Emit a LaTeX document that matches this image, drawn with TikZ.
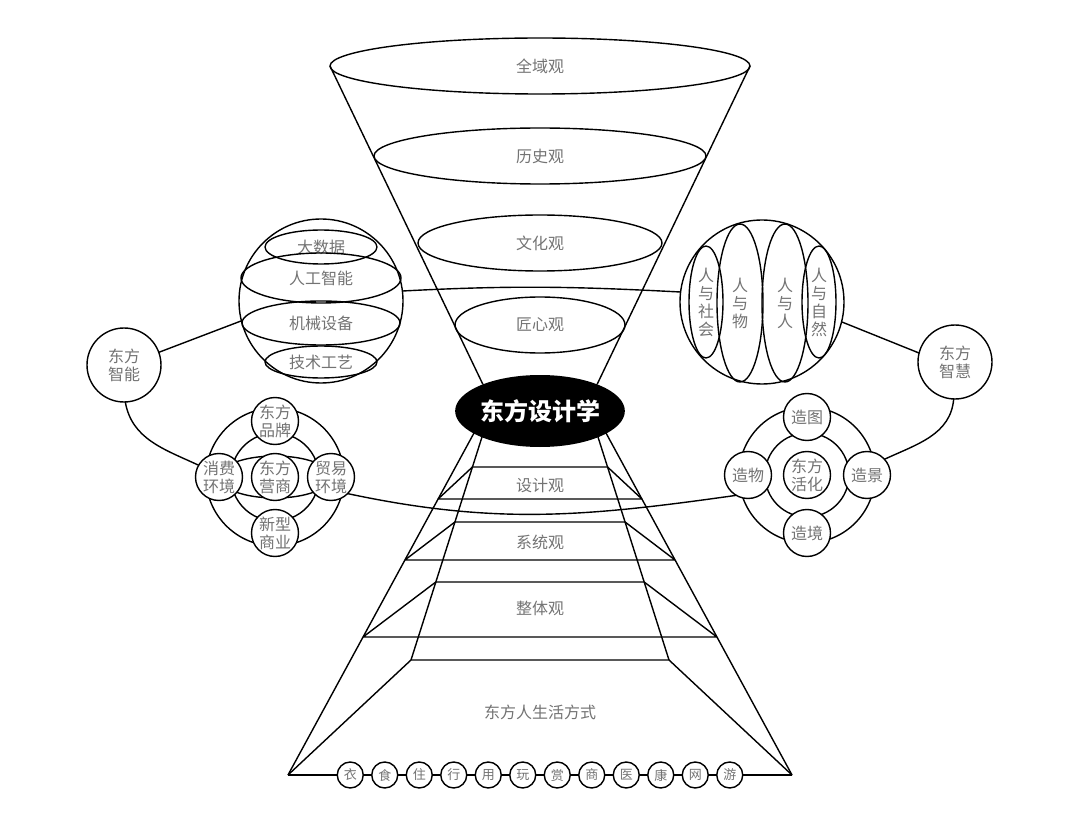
\documentclass[tikz,border=0pt]{standalone}
\usepackage{fontspec}
\newfontfamily\cjk{Noto Sans CJK SC}
\usetikzlibrary{calc,shapes.geometric}
\tikzset{
	lbl/.style={font=\cjk\fontsize{16}{18}\selectfont,text=black!55,align=center},
	oval/.style={draw,ellipse,inner sep=0pt,outer sep=0pt,lbl},
	disc/.style={draw,circle,fill=white,inner sep=0pt,outer sep=0pt,lbl},
	ringline/.style={draw,circle,inner sep=0pt,outer sep=0pt},
	bead/.style={disc,minimum size=26,font=\cjk\fontsize{13}{15}\selectfont},
}

\begin{document}
\begin{tikzpicture}[x=1pt,y=-1pt,line width=1.4pt]
	\useasboundingbox (0,0) rectangle (1080,829);
	\node[ellipse,fill=black,minimum width=168,minimum height=72,inner sep=0pt,outer sep=0pt,font=\cjk\fontsize{24}{26}\selectfont\bfseries,text=white] (design) at (540,411) {东方设计学};
	\node[oval,minimum width=420,minimum height=56] (quanyu) at (540,66) {全域观};
	\node[oval,minimum width=332,minimum height=56] (lishi) at (540,156) {历史观};
	\node[oval,minimum width=244,minimum height=56] (wenhua) at (540,243) {文化观};
	\node[oval,minimum width=170,minimum height=56] (jiangxin) at (540,325) {匠心观};
	\draw (quanyu.west) -- (design.155);
	\draw (quanyu.east) -- (design.25);
	\coordinate (ol0) at (474,433); \coordinate (or0) at (606,433);
	\coordinate (il0) at (482,437); \coordinate (ir0) at (598,437);
	\coordinate (ol1) at (288,775); \coordinate (or1) at (792,775);
	\coordinate (il1) at (411,660); \coordinate (ir1) at (669,660);
	\draw (ol0) -- (ol1) (or0) -- (or1) (il0) -- (il1) (ir0) -- (ir1);
	\foreach \yi/\yo in {467/499,522/560,582/637,660/775} {
		\coordinate (pl) at ($(il0)!{(\yi-437)/223}!(il1)$);
		\coordinate (pr) at ($(ir0)!{(\yi-437)/223}!(ir1)$);
		\coordinate (ql) at ($(ol0)!{(\yo-433)/342}!(ol1)$);
		\coordinate (qr) at ($(or0)!{(\yo-433)/342}!(or1)$);
		\draw (pl) -- (pr) (ql) -- (qr) (pl) -- (ql) (pr) -- (qr);
	}
	\node[lbl] (sheji) at (540,485) {设计观};
	\node[lbl] (xitong) at (540,542) {系统观};
	\node[lbl] (zhengti) at (540,608) {整体观};
	\node[lbl] (life) at (540,712) {东方人生活方式};
	\foreach \c [count=\i] in {衣,食,住,行,用,玩,赏,商,医,康,网,游}
		\node[bead] (b\i) at ({540+34.5*(\i-6.5)},775) {\c};
	\draw (ol1) -- (b1);
	\foreach \i [count=\j from 2] in {1,...,11}
		\draw (b\i) -- (b\j);
	\draw (b12) -- (or1);
	\node[disc,minimum size=164] (lsphere) at (321,301) {};
	\node[oval,minimum width=112,minimum height=34] (bigdata) at (321,247) {大数据};
	\node[oval,minimum width=160,minimum height=50] (ai) at (321,278) {人工智能};
	\node[oval,minimum width=158,minimum height=44] (machine) at (321,323) {机械设备};
	\node[oval,minimum width=112,minimum height=32] (craft) at (321,362) {技术工艺};
	\node[disc,minimum size=164] (rsphere) at (762,302) {};
	\node[oval,minimum width=34,minimum height=112] (society) at (706,302) {人\\与\\社\\会};
	\node[oval,minimum width=46,minimum height=158] (things) at (740,303) {人\\与\\物};
	\node[oval,minimum width=46,minimum height=158] (people) at (785,303) {人\\与\\人};
	\node[oval,minimum width=34,minimum height=112] (nature) at (819,302) {人\\与\\自\\然};
	\node[disc,minimum size=74] (zhineng) at (124,365) {东方\\智能};
	\node[disc,minimum size=74] (zhihui) at (955,362) {东方\\智慧};
	\node[disc,minimum size=138] (louter) at (275,477) {};
	\node[ringline,minimum size=88] (linner) at (275,477) {};
	\node[draw,ellipse,minimum width=112,minimum height=42,inner sep=0pt,outer sep=0pt] (lband) at (275,477) {};
	\node[disc,minimum size=47] (brand) at (275,421) {东方\\品牌};
	\node[disc,minimum size=47] (consume) at (219,477) {消费\\环境};
	\node[disc,minimum size=47] (trade) at (331,477) {贸易\\环境};
	\node[disc,minimum size=47] (newbiz) at (275,533) {新型\\商业};
	\node[disc,minimum size=47] (yingshang) at (275,477) {东方\\营商};
	\node[disc,minimum size=136] (router) at (807,475) {};
	\node[ringline,minimum size=84] (rinner) at (807,475) {};
	\node[disc,minimum size=47] (zaotu) at (807,417) {造图};
	\node[disc,minimum size=47] (zaowu) at (748,475) {造物};
	\node[disc,minimum size=47] (scene) at (867,475) {造景};
	\node[disc,minimum size=47] (realm) at (807,533) {造境};
	\node[disc,minimum size=47] (huohua) at (807,475) {东方\\活化};
	\draw (lsphere.194) -- (zhineng.20);
	\draw (zhineng.-88) to[out=-80,in=155] (consume.150);
	\draw (lsphere.7) to[out=3,in=177] (rsphere.173);
	\draw (trade.-45) to[out=-12,in=188] (zaowu.240);
	\draw (scene.42) to[out=25,in=-95] (zhihui.-92);
	\draw (zhihui.166) -- (rsphere.-14);
\end{tikzpicture}
\end{document}
